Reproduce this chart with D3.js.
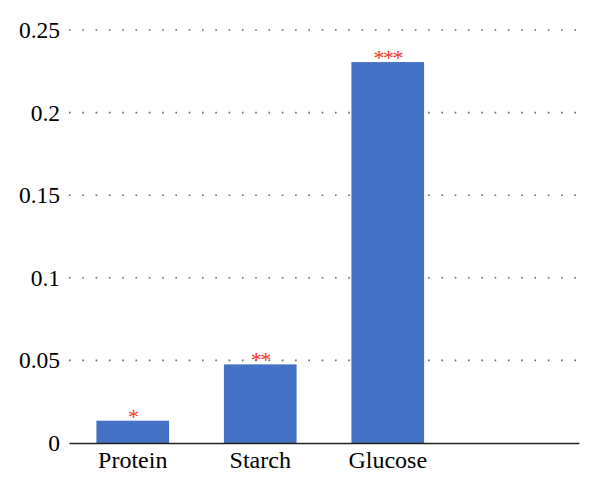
<!DOCTYPE html>
<html>
<head>
<meta charset="utf-8">
<script src="https://cdn.jsdelivr.net/npm/d3@7"></script>
<style>
  body { margin: 0; background: #fff; }
  svg { display: block; }
</style>
</head>
<body>
<svg id="chart"></svg>
<script>
"use strict"

const CHART_WIDTH = 600;
const CHART_HEIGHT = 491;
const MARGIN = { left: 69, right: 21, top: 30, bottom: 48 };
const FONT = "'Liberation Serif', 'DejaVu Serif', serif";

// data
const CATEGORIES = ["Protein", "Starch", "Glucose", ""];
const VALUES = [0.0135, 0.0476, 0.2306, null];
const STARS = ["*", "**", "***", ""];
const Y_TICKS = [0, 0.05, 0.1, 0.15, 0.2, 0.25];
const Y_TICK_LABELS = ["0", "0.05", "0.1", "0.15", "0.2", "0.25"];

const innerW = CHART_WIDTH - MARGIN.left - MARGIN.right;
const innerH = CHART_HEIGHT - MARGIN.top - MARGIN.bottom;

const svg = d3.select("#chart")
    .attr("width", CHART_WIDTH)
    .attr("height", CHART_HEIGHT);

const g = svg.append("g").attr("transform", `translate(${MARGIN.left},${MARGIN.top})`);

const xScale = d3.scaleBand(CATEGORIES, [0, innerW])
    .paddingInner(0.43)
    .paddingOuter(0.215);
const yScale = d3.scaleLinear([0, 0.25], [innerH, 0]);

// dotted gridlines
g.append("g").attr("class", "grid")
    .selectAll("line")
    .data(Y_TICKS.slice(1))
    .join("line")
    .attr("x1", 0)
    .attr("x2", innerW + 6)
    .attr("y1", d => yScale(d))
    .attr("y2", d => yScale(d))
    .attr("stroke", "#666")
    .attr("stroke-width", 1.6)
    .attr("stroke-dasharray", "1.6,11.7");

// y axis labels
const yAxis = g.append("g")
    .call(d3.axisLeft(yScale).tickValues(Y_TICKS).tickSize(0).tickPadding(9)
        .tickFormat((d, i) => Y_TICK_LABELS[i]));
yAxis.select(".domain").remove();
yAxis.attr("font-family", null).attr("font-size", null);
yAxis.selectAll("text")
    .style("font-family", FONT)
    .style("font-size", "23.5px")
    .attr("fill", "#000");

// bars
const bars = CATEGORIES.map((c, i) => ({ cat: c, val: VALUES[i], star: STARS[i] }))
    .filter(d => d.val != null);

g.append("g").selectAll("rect")
    .data(bars)
    .join("rect")
    .attr("x", d => xScale(d.cat))
    .attr("y", d => yScale(d.val))
    .attr("width", xScale.bandwidth())
    .attr("height", d => innerH - yScale(d.val))
    .attr("fill", "#4472c4");

// significance stars
g.append("g").selectAll("text")
    .data(bars)
    .join("text")
    .attr("x", d => xScale(d.cat) + xScale.bandwidth() / 2)
    .attr("y", d => yScale(d.val) + 3)
    .attr("text-anchor", "middle")
    .style("font-family", FONT)
    .style("font-size", "22px")
    .style("letter-spacing", "-1.5px")
    .attr("fill", "#f0331c")
    .text(d => d.star);

// x axis
const xAxis = g.append("g")
    .attr("transform", `translate(0,${innerH})`)
    .call(d3.axisBottom(xScale).tickSize(0).tickPadding(8));
xAxis.attr("font-family", null).attr("font-size", null);
xAxis.select(".domain")
    .attr("stroke", "#222")
    .attr("stroke-width", 1.5);
xAxis.selectAll("text")
    .style("font-family", FONT)
    .style("font-size", "24px")
    .attr("fill", "#000");
</script>
</body>
</html>
